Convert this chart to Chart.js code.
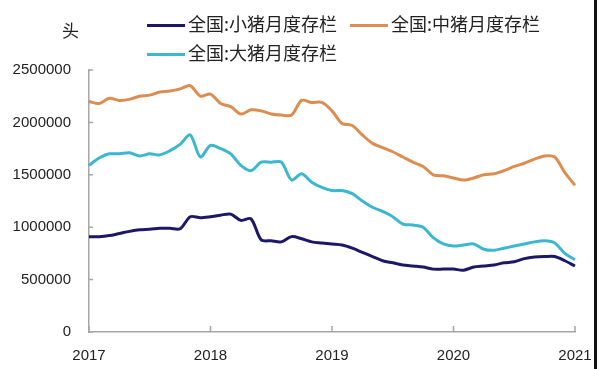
<!DOCTYPE html>
<html>
<head>
<meta charset="utf-8">
<script src="https://cdn.jsdelivr.net/npm/chart.js@4/dist/chart.umd.min.js"></script>
<style>
  html, body { margin: 0; padding: 0; background: #fff; }
  #wrap { position: relative; width: 600px; height: 369px; overflow: hidden; }
  #c { position: absolute; left: 0; top: 0; }
  .unit { position: absolute; left: 62px; top: 20px; font: 17px "Noto Sans CJK SC", sans-serif; color: #222; line-height: 20px; }
  .leg { position: absolute; font: 18px "Noto Sans CJK SC", sans-serif; color: #222; line-height: 20px; white-space: nowrap; }
  .leg i { display: inline-block; width: 38px; height: 3px; vertical-align: middle; margin-right: 3px; position: relative; top: -1px; }
  .edge { position: absolute; left: 594px; top: 0; width: 3px; height: 369px; background: #111; }
</style>
</head>
<body>
<div id="wrap">
  <canvas id="c" width="600" height="369"></canvas>
  <div class="unit">头</div>
  <div class="leg" style="left:147px; top:13px;"><i style="background:#1c1766"></i>全国:小猪月度存栏</div>
  <div class="leg" style="left:350px; top:13px;"><i style="background:#dc8d4f"></i>全国:中猪月度存栏</div>
  <div class="leg" style="left:147px; top:42px;"><i style="background:#3bb7cf"></i>全国:大猪月度存栏</div>
  <div class="edge"></div>
</div>
<script>
// monthly, 2017-01 .. 2021-01
const startYear = 2017;
const months = [];
for (let i = 0; i <= 48; i++) {
  const y = startYear + Math.floor(i / 12);
  const m = (i % 12) + 1;
  months.push(`${y}-${String(m).padStart(2, '0')}`);
}

const yTicks = [0, 500000, 1000000, 1500000, 2000000, 2500000];

const smallPigs = [
  910000, 910000, 920000, 940000, 960000, 975000, 980000, 990000, 990000, 985000,
  1100000, 1090000, 1100000, 1115000, 1125000, 1065000, 1080000, 880000, 870000, 860000,
  910000, 890000, 860000, 850000, 840000, 830000, 800000, 760000, 720000, 680000,
  660000, 640000, 630000, 620000, 600000, 600000, 600000, 590000, 620000, 630000,
  640000, 660000, 670000, 700000, 715000, 720000, 720000, 680000, 630000,
];

const midPigs = [
  2200000, 2180000, 2230000, 2210000, 2220000, 2250000, 2260000, 2290000, 2300000, 2320000,
  2350000, 2250000, 2270000, 2180000, 2150000, 2080000, 2120000, 2110000, 2080000, 2070000,
  2070000, 2210000, 2190000, 2190000, 2110000, 1990000, 1970000, 1880000, 1800000, 1760000,
  1720000, 1670000, 1620000, 1580000, 1500000, 1490000, 1470000, 1450000, 1470000, 1500000,
  1510000, 1540000, 1580000, 1610000, 1650000, 1680000, 1670000, 1520000, 1400000,
];

const bigPigs = [
  1590000, 1660000, 1700000, 1700000, 1710000, 1680000, 1700000, 1690000, 1730000, 1790000,
  1880000, 1670000, 1780000, 1750000, 1700000, 1590000, 1540000, 1620000, 1620000, 1620000,
  1450000, 1510000, 1430000, 1380000, 1350000, 1350000, 1320000, 1250000, 1190000, 1150000,
  1100000, 1030000, 1020000, 1000000, 900000, 840000, 820000, 830000, 840000, 790000,
  780000, 800000, 820000, 840000, 860000, 870000, 850000, 750000, 690000,
];

const AXIS_COLOR = '#a6a6a6';

// small tick marks drawn inward from the axes
const innerTicks = {
  id: 'innerTicks',
  afterDraw(chart) {
    const { ctx, chartArea, scales } = chart;
    ctx.save();
    ctx.strokeStyle = AXIS_COLOR;
    ctx.lineWidth = 1.5;
    ctx.beginPath();
    yTicks.forEach((v) => {
      const py = scales.y.getPixelForValue(v);
      ctx.moveTo(chartArea.left, py);
      ctx.lineTo(chartArea.left + 4, py);
    });
    months.forEach((m, i) => {
      if (i % 12 !== 0) return;
      const px = scales.x.getPixelForValue(i);
      ctx.moveTo(px, chartArea.bottom);
      ctx.lineTo(px, chartArea.bottom - 6);
    });
    ctx.stroke();
    ctx.restore();
  },
};

const line = (data, color) => ({
  data,
  borderColor: color,
  backgroundColor: color,
  borderWidth: 3,
  pointRadius: 0,
  tension: 0.3,
  fill: false,
});

new Chart(document.getElementById('c'), {
  type: 'line',
  data: {
    labels: months,
    datasets: [
      line(smallPigs, '#1c1766'),
      line(midPigs, '#dc8d4f'),
      line(bigPigs, '#3bb7cf'),
    ],
  },
  options: {
    responsive: false,
    animation: false,
    layout: { padding: { top: 70, right: 25, left: 0, bottom: 0 } },
    plugins: { legend: { display: false }, tooltip: { enabled: false } },
    scales: {
      x: {
        type: 'category',
        offset: false,
        grid: { display: false, drawTicks: false },
        border: { display: true, color: AXIS_COLOR, width: 1.5 },
        ticks: {
          autoSkip: false,
          maxRotation: 0,
          padding: 15,
          color: '#222',
          font: { family: 'Liberation Sans', size: 15 },
          callback(val) {
            const lab = this.getLabelForValue(val);
            return lab.endsWith('-01') ? lab.slice(0, 4) : null;
          },
        },
        afterFit(scale) {
          scale.height = 37;
          scale.paddingLeft = 0;
          scale.paddingRight = 0;
        },
      },
      y: {
        min: 0,
        max: 2500000,
        afterBuildTicks(scale) { scale.ticks = yTicks.map((v) => ({ value: v })); },
        grid: { display: false, drawTicks: false },
        border: { display: true, color: AXIS_COLOR, width: 1.5 },
        ticks: {
          padding: 18,
          color: '#222',
          font: { family: 'Liberation Sans', size: 15 },
          callback: (v) => String(v),
        },
        afterFit(scale) {
          scale.width = 89;
          scale.paddingTop = 0;
          scale.paddingBottom = 0;
        },
      },
    },
  },
  plugins: [innerTicks],
});
</script>
</body>
</html>
